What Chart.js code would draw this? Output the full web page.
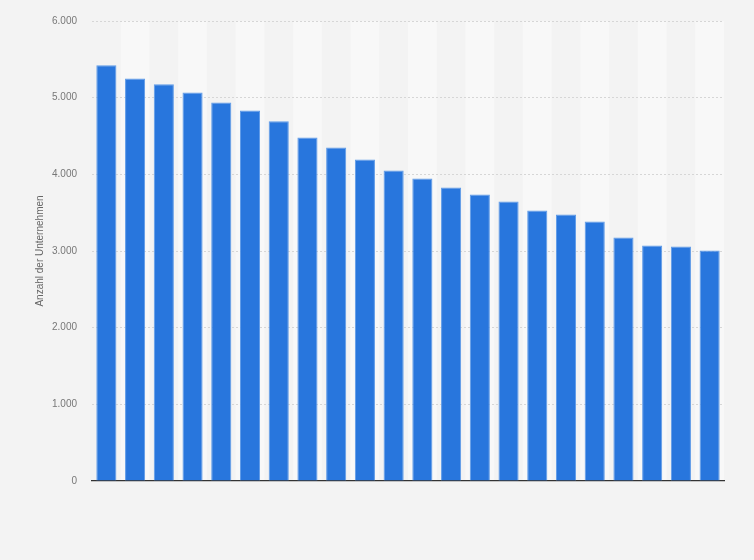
<!DOCTYPE html>
<html>
<head>
<meta charset="utf-8">
<script src="https://cdn.jsdelivr.net/npm/chart.js@4"></script>
<style>
  html, body { margin: 0; padding: 0; background: #f3f3f3; }
  #wrap { width: 754px; height: 560px; }
</style>
</head>
<body>
<div id="wrap"><canvas id="chart" width="754" height="560"></canvas></div>
<script>
// Categories have no visible labels in the source, so they are just ranks
const categories = ['1', '2', '3', '4', '5', '6', '7', '8', '9', '10', '11',
  '12', '13', '14', '15', '16', '17', '18', '19', '20', '21', '22'];
const companyCounts = [5422, 5249, 5175, 5067, 4936, 4832, 4692, 4480, 4350, 4193, 4050,
  3946, 3827, 3737, 3646, 3528, 3476, 3385, 3177, 3072, 3059, 3007];
const yTicks = [0, 1000, 2000, 3000, 4000, 5000, 6000];

// German thousands separator
function formatDe(v) {
  return String(v).replace(/\B(?=(\d{3})+(?!\d))/g, '.');
}

// light stripes behind every second category (drawn before the grid)
const stripes = {
  id: 'stripes',
  beforeDraw(chart) {
    const { ctx, chartArea, scales: { x } } = chart;
    const step = x.getPixelForValue(1) - x.getPixelForValue(0);
    ctx.save();
    ctx.fillStyle = '#f8f8f8';
    categories.forEach((c, i) => {
      if (i % 2 === 1) {
        const cx = x.getPixelForValue(i);
        ctx.fillRect(cx - step / 2, chartArea.top, step, chartArea.bottom - chartArea.top);
      }
    });
    ctx.restore();
  }
};

Chart.defaults.font.family = '"Liberation Sans", Arial, sans-serif';
Chart.defaults.font.size = 10;
Chart.defaults.color = '#777';

new Chart(document.getElementById('chart'), {
  type: 'bar',
  data: {
    labels: categories,
    datasets: [{
      label: 'Anzahl der Unternehmen',
      data: companyCounts,
      backgroundColor: '#2876dd',
      borderColor: '#5d9ae8',
      borderWidth: 1,
      categoryPercentage: 1,
      barPercentage: 0.7
    }]
  },
  options: {
    responsive: false,
    animation: false,
    layout: { padding: { top: 20, right: 30, bottom: 79, left: 0 } },
    scales: {
      x: {
        ticks: { display: false },
        grid: { display: false, drawTicks: false },
        border: { display: true, color: '#333', width: 1.3 }
      },
      y: {
        min: 0,
        max: 6000,
        afterBuildTicks(scale) {
          scale.ticks = yTicks.map(v => ({ value: v }));
        },
        afterFit(scale) {
          scale.width = 92;
        },
        ticks: {
          padding: 15,
          color: '#777',
          callback: v => formatDe(v)
        },
        grid: {
          color: ctx => ctx.tick.value === 0 ? 'rgba(0,0,0,0)' : '#d6d6d6',
          drawTicks: false
        },
        border: { display: false, dash: [2, 2] },
        title: {
          display: true,
          text: 'Anzahl der Unternehmen',
          color: '#666',
          font: { size: 10 },
          padding: { top: 34, bottom: 0 }
        }
      }
    },
    plugins: {
      legend: { display: false },
      tooltip: { enabled: false }
    }
  },
  plugins: [stripes]
});
</script>
</body>
</html>
